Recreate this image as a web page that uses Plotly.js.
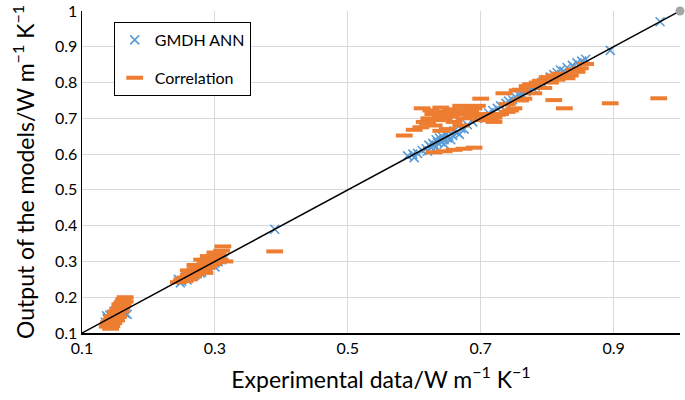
<!DOCTYPE html>
<html><head><meta charset="utf-8">
<script src="https://cdn.plot.ly/plotly-3.0.1.min.js"></script>
<style>html,body{margin:0;padding:0;background:#fff}#c{width:685px;height:400px}</style>
</head><body><div id="c"></div>
<script>
// GMDH ANN predictions (experimental, predicted)
const gmdhX = [0.135,0.138,0.140,0.142,0.145,0.140,0.150,0.155,0.160,0.165,0.168,0.148,0.137,0.152,0.158,
  0.245,0.250,0.255,0.260,0.265,0.270,0.275,0.280,0.285,0.290,0.295,0.300,0.305,0.310,0.315,0.258,0.268,0.278,0.288,0.248,0.262,0.300,
  0.390,
  0.590,0.598,0.605,0.612,0.618,0.622,0.625,0.628,0.630,0.633,0.635,0.638,0.640,0.642,0.645,0.648,0.650,0.652,0.655,0.658,0.660,0.665,0.670,0.675,0.680,0.688,0.695,0.700,0.705,0.712,0.718,0.725,0.730,0.738,0.742,0.748,0.752,0.758,0.762,0.768,0.772,0.778,0.782,0.788,0.792,0.798,0.805,0.810,0.815,0.820,0.825,0.830,0.838,0.845,0.852,0.858,0.620,0.632,0.645,0.655,0.600,0.668,
  0.895,0.970];
const gmdhY = [0.130,0.140,0.135,0.150,0.145,0.125,0.155,0.150,0.158,0.155,0.152,0.160,0.148,0.140,0.162,
  0.250,0.245,0.262,0.255,0.270,0.262,0.280,0.270,0.285,0.280,0.292,0.295,0.300,0.305,0.310,0.248,0.275,0.268,0.290,0.240,0.258,0.285,
  0.390,
  0.595,0.600,0.602,0.610,0.615,0.625,0.620,0.630,0.625,0.640,0.632,0.645,0.635,0.650,0.640,0.655,0.645,0.650,0.658,0.652,0.665,0.660,0.672,0.670,0.682,0.690,0.700,0.705,0.703,0.715,0.722,0.728,0.735,0.742,0.748,0.752,0.760,0.765,0.768,0.775,0.780,0.785,0.790,0.795,0.800,0.808,0.815,0.822,0.828,0.835,0.832,0.842,0.848,0.855,0.860,0.865,0.608,0.618,0.628,0.640,0.590,0.655,
  0.890,0.970];

// Correlation predictions (experimental, predicted)
const corrX = [0.138,0.140,0.142,0.145,0.140,0.143,0.146,0.148,0.145,0.150,0.152,0.150,0.154,0.156,0.158,0.157,0.160,0.162,0.163,0.165,0.148,0.152,0.155,0.158,0.160,0.162,0.143,0.165,
  0.245,0.250,0.255,0.255,0.260,0.262,0.265,0.268,0.270,0.272,0.275,0.278,0.280,0.282,0.285,0.288,0.290,0.292,0.295,0.298,0.300,0.302,0.305,0.308,0.310,0.312,0.315,0.270,0.280,0.260,0.290,0.300,0.285,
  0.390,
  0.585,0.600,0.615,0.622,0.628,0.632,0.640,0.645,0.650,0.655,0.660,0.665,0.670,0.675,0.680,0.685,0.690,0.620,0.610,0.630,0.635,0.660,0.670,0.690,0.700,0.705,0.710,0.715,0.720,0.725,0.730,0.735,0.740,0.745,0.750,0.755,0.760,0.765,0.770,0.775,0.780,0.785,0.790,0.795,0.800,0.805,0.810,0.815,0.820,0.825,0.830,0.835,0.840,0.845,0.850,0.858,0.630,0.645,0.660,0.675,0.690,0.720,0.740,0.760,0.700,0.695,0.650,0.640,0.612,0.625,0.640,0.655,0.670,0.685,
  0.810,0.826,0.895,0.968];
const corrY = [0.118,0.122,0.126,0.120,0.130,0.134,0.138,0.142,0.146,0.150,0.155,0.160,0.165,0.170,0.175,0.180,0.185,0.190,0.195,0.200,0.128,0.135,0.145,0.160,0.170,0.178,0.112,0.188,
  0.242,0.250,0.255,0.245,0.262,0.250,0.270,0.258,0.278,0.265,0.285,0.272,0.290,0.278,0.295,0.282,0.300,0.288,0.305,0.292,0.312,0.298,0.320,0.305,0.330,0.342,0.300,0.290,0.305,0.275,0.315,0.325,0.268,
  0.328,
  0.652,0.668,0.690,0.700,0.712,0.718,0.708,0.698,0.715,0.705,0.720,0.712,0.725,0.700,0.718,0.722,0.728,0.685,0.675,0.680,0.695,0.690,0.680,0.705,0.755,0.712,0.695,0.700,0.702,0.710,0.712,0.770,0.718,0.722,0.728,0.778,0.780,0.755,0.790,0.795,0.770,0.800,0.805,0.785,0.815,0.800,0.820,0.808,0.825,0.815,0.812,0.820,0.835,0.830,0.840,0.852,0.605,0.608,0.612,0.615,0.618,0.690,0.740,0.750,0.695,0.735,0.670,0.665,0.728,0.722,0.730,0.725,0.735,0.710,
  0.751,0.728,0.742,0.756];

// y = x reference line
const lineX = [0.1, 1.0];
const lineY = [0.1, 1.0];
const endX = [1.0];
const endY = [1.0];

const xTicks = [0.1, 0.3, 0.5, 0.7, 0.9];
const xTickText = ['0.1', '0.3', '0.5', '0.7', '0.9'];
const yTicks = [0.1, 0.2, 0.3, 0.4, 0.5, 0.6, 0.7, 0.8, 0.9, 1.0];
const yTickText = ['0.1', '0.2', '0.3', '0.4', '0.5', '0.6', '0.7', '0.8', '0.9', '1'];

const FONT = 'Lato, "Open Sans", sans-serif';

const traces = [
  {x: gmdhX, y: gmdhY, type: 'scatter', mode: 'markers', name: 'GMDH ANN', legendgroup: 'a',
   marker: {symbol: 'x-thin', size: 9, color: '#5B9BD5', line: {color: '#5B9BD5', width: 1.6}}, cliponaxis: false},
  {x: corrX, y: corrY, type: 'scatter', mode: 'markers', name: 'Correlation', legendgroup: 'b',
   marker: {symbol: 'line-ew', size: 12, color: '#ED7D31', line: {color: '#ED7D31', width: 4}}, cliponaxis: false},
  {x: lineX, y: lineY, type: 'scatter', mode: 'lines', showlegend: false,
   line: {color: '#000000', width: 1.5}, cliponaxis: false},
  {x: endX, y: endY, type: 'scatter', mode: 'markers', showlegend: false,
   marker: {symbol: 'circle', size: 9, color: '#A5A5A5'}, cliponaxis: false}
];

const layout = {
  width: 685, height: 400,
  margin: {l: 82, r: 5, t: 11, b: 67},
  paper_bgcolor: '#ffffff', plot_bgcolor: '#ffffff',
  font: {family: FONT, size: 16, color: '#000000'},
  showlegend: true,
  legend: {x: 0.053, y: 0.966, xanchor: 'left', yanchor: 'top',
    bgcolor: '#ffffff', bordercolor: '#000000', borderwidth: 1,
    font: {family: FONT, size: 16, color: '#000000'},
    traceorder: 'grouped', tracegroupgap: 14},
  xaxis: {range: [0.1, 1.0], tickvals: xTicks, ticktext: xTickText,
    showgrid: true, gridcolor: '#D9D9D9', gridwidth: 1,
    showline: true, linecolor: '#000000', linewidth: 1.5, zeroline: false,
    ticks: '', tickfont: {family: FONT, size: 16},
    title: {text: 'Experimental data/W m<sup>−1</sup> K<sup>−1</sup>', font: {family: FONT, size: 23}, standoff: 16}},
  yaxis: {range: [0.1, 1.0], tickvals: yTicks, ticktext: yTickText,
    showgrid: true, gridcolor: '#D9D9D9', gridwidth: 1,
    showline: true, linecolor: '#000000', linewidth: 1.5, zeroline: false,
    ticks: '', tickfont: {family: FONT, size: 16},
    title: {text: 'Output of the models/W m<sup>−1</sup> K<sup>−1</sup>', font: {family: FONT, size: 23}, standoff: 14}}
};

Plotly.newPlot('c', traces, layout, {displayModeBar: false, staticPlot: true});
</script>
</body></html>
